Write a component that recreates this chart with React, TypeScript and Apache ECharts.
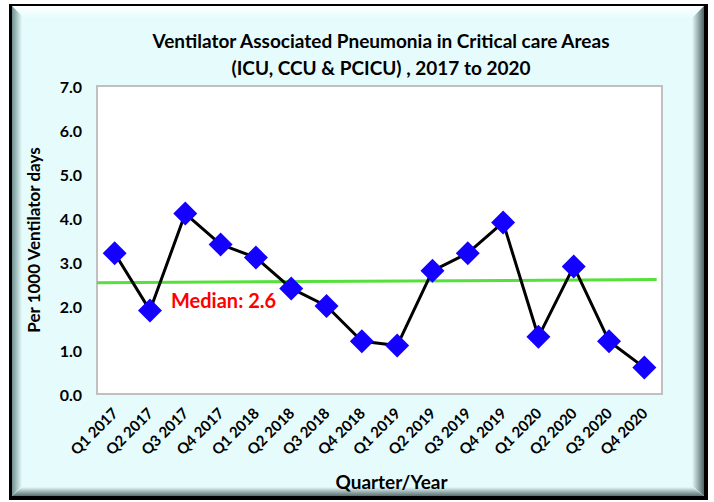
import React, { useEffect, useRef } from "react";
import * as echarts from "echarts";

const categories = [
  "Q1 2017", "Q2 2017", "Q3 2017", "Q4 2017",
  "Q1 2018", "Q2 2018", "Q3 2018", "Q4 2018",
  "Q1 2019", "Q2 2019", "Q3 2019", "Q4 2019",
  "Q1 2020", "Q2 2020", "Q3 2020", "Q4 2020",
];
const vapRates = [3.2, 1.9, 4.1, 3.4, 3.1, 2.4, 2.0, 1.2, 1.1, 2.8, 3.2, 3.9, 1.3, 2.9, 1.2, 0.6];
const medianLine: [number, number][] = [[0, 2.53], [15.85, 2.6]];
const yTicks = [0, 1, 2, 3, 4, 5, 6, 7];

const FONT = "Lato, 'Open Sans', sans-serif";

export default function App() {
  const ref = useRef<HTMLDivElement>(null);
  useEffect(() => {
    if (!ref.current) return;
    const chart = echarts.init(ref.current, null, { renderer: "svg" });
    const bg = "#e6fcfc";
    chart.setOption({
      animation: false,
      backgroundColor: "#ffffff",
      textStyle: { fontFamily: FONT },
      graphic: [
        { type: "rect", z: -10, silent: true, shape: { x: 9, y: 4, width: 699, height: 496 }, style: { fill: "#000000" } },
        { type: "rect", z: -9, silent: true, shape: { x: 12, y: 6, width: 692, height: 490 }, style: { fill: bg } },
        {
          type: "polygon", z: -8, silent: true,
          shape: { points: [[12, 6], [704, 6], [692, 18], [24, 18]] },
          style: { fill: new echarts.graphic.LinearGradient(0, 0, 0, 1, [{ offset: 0, color: "#ffffff" }, { offset: 1, color: bg }]) },
        },
        {
          type: "polygon", z: -8, silent: true,
          shape: { points: [[12, 6], [22, 16], [22, 486], [12, 496]] },
          style: { fill: new echarts.graphic.LinearGradient(0, 0, 1, 0, [{ offset: 0, color: "#6f8f8f" }, { offset: 1, color: bg }]) },
        },
        {
          type: "polygon", z: -8, silent: true,
          shape: { points: [[704, 6], [704, 496], [692, 486], [692, 18]] },
          style: { fill: new echarts.graphic.LinearGradient(0, 0, 1, 0, [{ offset: 0, color: bg }, { offset: 1, color: "#4f6464" }]) },
        },
        {
          type: "polygon", z: -8, silent: true,
          shape: { points: [[12, 496], [704, 496], [692, 487], [22, 487]] },
          style: { fill: new echarts.graphic.LinearGradient(0, 0, 0, 1, [{ offset: 0, color: bg }, { offset: 1, color: "#5a7070" }]) },
        },
        {
          type: "text", z: 10, left: 171, top: 290,
          style: { text: "Median: 2.6", fill: "#ff0000", font: `bold 20px ${FONT}` },
        },
      ],
      title: {
        text: "Ventilator Associated Pneumonia in Critical care Areas\n(ICU, CCU & PCICU) , 2017 to 2020",
        left: 376,
        top: 22,
        textAlign: "center",
        textStyle: { fontFamily: FONT, fontWeight: "bold", fontSize: 19, lineHeight: 27, color: "#000000" },
      },
      grid: {
        left: 97, top: 86, right: 52, bottom: 108,
        show: true, backgroundColor: "#ffffff", borderColor: "#c0c0c0", borderWidth: 2,
      },
      xAxis: [
        {
          type: "category",
          data: categories,
          boundaryGap: true,
          axisLine: { show: false },
          axisTick: { show: false },
          axisLabel: { rotate: 45, interval: 0, fontWeight: "bold", fontSize: 15, color: "#000", margin: 16, fontFamily: FONT },
          name: "Quarter/Year",
          nameLocation: "middle",
          nameGap: 78,
          nameTextStyle: { fontWeight: "bold", fontSize: 19, color: "#000", fontFamily: FONT, padding: [0, 0, 0, 24] },
        },
        { type: "value", min: 0, max: 16, show: false },
      ],
      yAxis: {
        type: "value",
        min: 0, max: 7, interval: 1,
        splitLine: { show: false },
        axisLine: { show: false },
        axisTick: { show: false },
        axisLabel: {
          fontWeight: "bold", fontSize: 16, color: "#000", margin: 15, fontFamily: FONT,
          formatter: (v: number) => (yTicks.includes(v) ? v.toFixed(1) : ""),
        },
        name: "Per 1000 Ventilator days",
        nameLocation: "middle",
        nameGap: 55,
        nameTextStyle: { fontWeight: "bold", fontSize: 17, color: "#000", fontFamily: FONT },
      },
      series: [
        {
          type: "line",
          xAxisIndex: 1,
          data: medianLine,
          symbol: "none",
          lineStyle: { color: "#55e03c", width: 3 },
          z: 3,
        },
        {
          type: "line",
          xAxisIndex: 0,
          data: vapRates,
          symbol: "diamond",
          symbolSize: 24,
          itemStyle: { color: "#1400ff" },
          lineStyle: { color: "#000000", width: 3 },
          z: 4,
        },
      ],
    });
    return () => chart.dispose();
  }, []);
  return <div ref={ref} style={{ position: "fixed", left: 0, top: 0, width: 714, height: 502 }} />;
}
